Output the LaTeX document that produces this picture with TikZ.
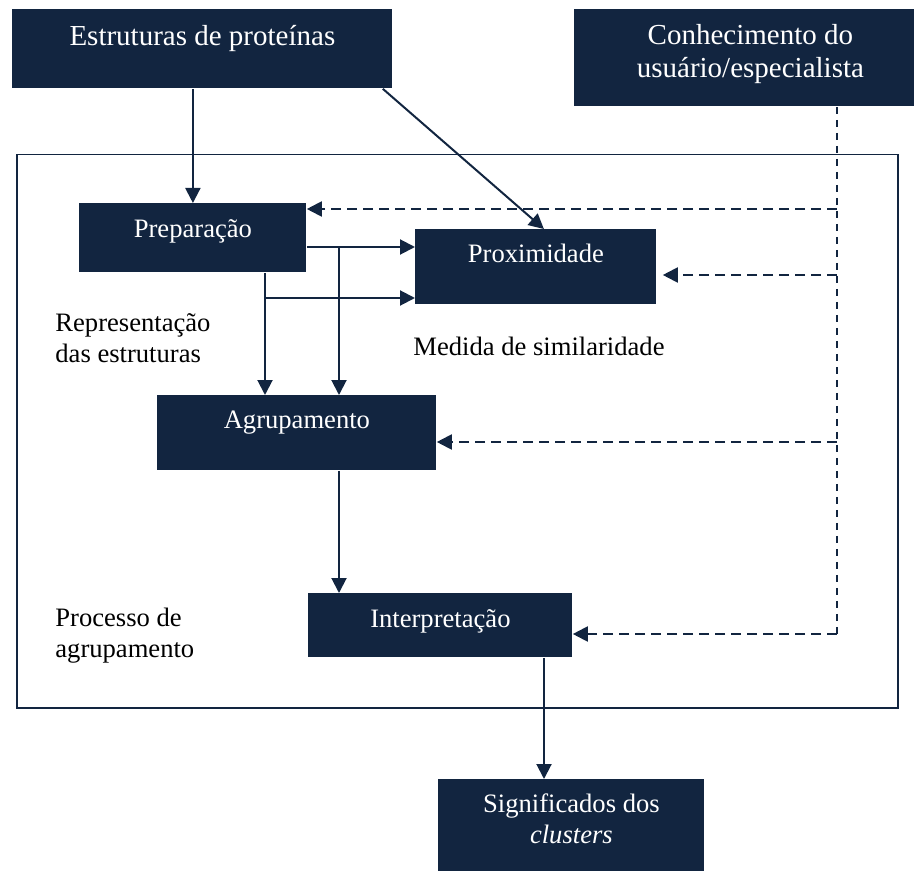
\documentclass[tikz,border=0pt]{standalone}
\usepackage{fontspec}
\setmainfont{Liberation Serif}
\usetikzlibrary{arrows.meta,positioning}
\definecolor{navy}{RGB}{18,37,64}
\tikzset{
    %Define standard arrow tip
    >={Triangle[length=7.5pt,width=7.5pt]},
    %Define style for boxes
    blk/.style={
           rectangle,
           fill=navy,
           inner sep=0pt,
           anchor=north west},
    bigtxt/.style={
           text=white,
           inner sep=0pt,
           anchor=base,
           align=center,
           font=\fontsize{14.5}{16.5}\selectfont},
    boxtxt/.style={
           text=white,
           inner sep=0pt,
           anchor=base,
           align=center,
           font=\fontsize{13.3}{15.5}\selectfont},
    note/.style={
           inner sep=0pt,
           anchor=base west,
           align=left,
           font=\fontsize{13.3}{15.5}\selectfont},
    % Define arrow style
    pil/.style={
           ->,
           draw=navy,
           line width=1pt},
    stip/.style={
           ->,
           draw=navy,
           line width=1pt,
           dash pattern=on 5pt off 3pt},
}
\begin{document}
\begin{tikzpicture}[x=0.5pt,y=-0.5pt]
\useasboundingbox (0,0) rectangle (914,871);
% frame of the process
\node[draw=navy, line width=0.75pt, inner sep=0pt, anchor=north west,
  minimum width=440.5pt, minimum height=276.5pt] (proc) at (16,154) {};
% boxes
\node[blk, minimum width=190pt, minimum height=39.5pt] (est) at (12,9) {};
\node[blk, minimum width=170pt, minimum height=48.5pt] (conh) at (574,9) {};
\node[blk, minimum width=113.5pt, minimum height=34.5pt] (prep) at (79,203) {};
\node[blk, minimum width=120.5pt, minimum height=37.5pt] (prox) at (415,229) {};
\node[blk, minimum width=139.5pt, minimum height=37.5pt] (agr) at (157,395) {};
\node[blk, minimum width=132pt, minimum height=32pt] (int) at (308,593) {};
\node[blk, minimum width=133pt, minimum height=46pt] (sig) at (438,779) {};
% texts in boxes (base = last line)
\node[bigtxt] (estT) at ([yshift=-18.5pt]est.north) {Estruturas de proteínas};
\node[bigtxt] (conhT) at ([xshift=3pt,yshift=-34.5pt]conh.north) {Conhecimento do\\usuário/especialista};
\node[boxtxt] (prepT) at ([yshift=-17.5pt]prep.north) {Preparação};
\node[boxtxt] (proxT) at ([yshift=-17pt]prox.north) {Proximidade};
\node[boxtxt] (agrT) at ([yshift=-16.5pt]agr.north) {Agrupamento};
\node[boxtxt] (intT) at ([yshift=-17pt]int.north) {Interpretação};
\node[boxtxt] (sigT) at ([yshift=-32pt]sig.north) {Significados dos\\\textit{clusters}};
% notes
\node[note] (repN) at (55,362) {Representação\\das estruturas};
\node[note] (medN) at (413,355) {Medida de similaridade};
\node[note] (procN) at (55,657) {Processo de\\agrupamento};
% helper points
\coordinate (a1) at (339,247);
\coordinate (b1) at (265,298);
\coordinate (c1) at (544,720);
\coordinate (kx) at (837,106);
\coordinate (d1) at (837,209);
\coordinate (d2) at (837,275);
\coordinate (d3) at (837,442);
\coordinate (d4) at (837,634);
% solid arrows
\draw[pil] (est.south -| prep.north) -- (prep.north);
\draw[pil] ([xshift=-5pt]est.south east) -- ([xshift=4pt]prox.north);
\draw[pil] (prep.east |- a1) -- (prox.west |- a1);
\draw[pil] (a1) -- (a1 |- agr.north);
\draw[pil] (prep.south -| b1) -- (b1 |- agr.north);
\draw[pil] (b1) -- (prox.west |- b1);
\draw[pil] (agr.south -| a1) -- (int.north -| a1);
\draw[pil] (int.south -| c1) -- (sig.north -| c1);
% dashed feedback
\draw[navy, line width=0.75pt, dash pattern=on 3.5pt off 3pt] (conh.south -| kx) -- (d4);
\draw[stip] (d1) -- (prep.east |- d1);
\draw[stip, shorten >=3pt] (d2) -- (prox.east |- d2);
\draw[stip] (d3) -- (agr.east |- d3);
\draw[stip] (d4) -- (int.east |- d4);
\end{tikzpicture}
\end{document}
